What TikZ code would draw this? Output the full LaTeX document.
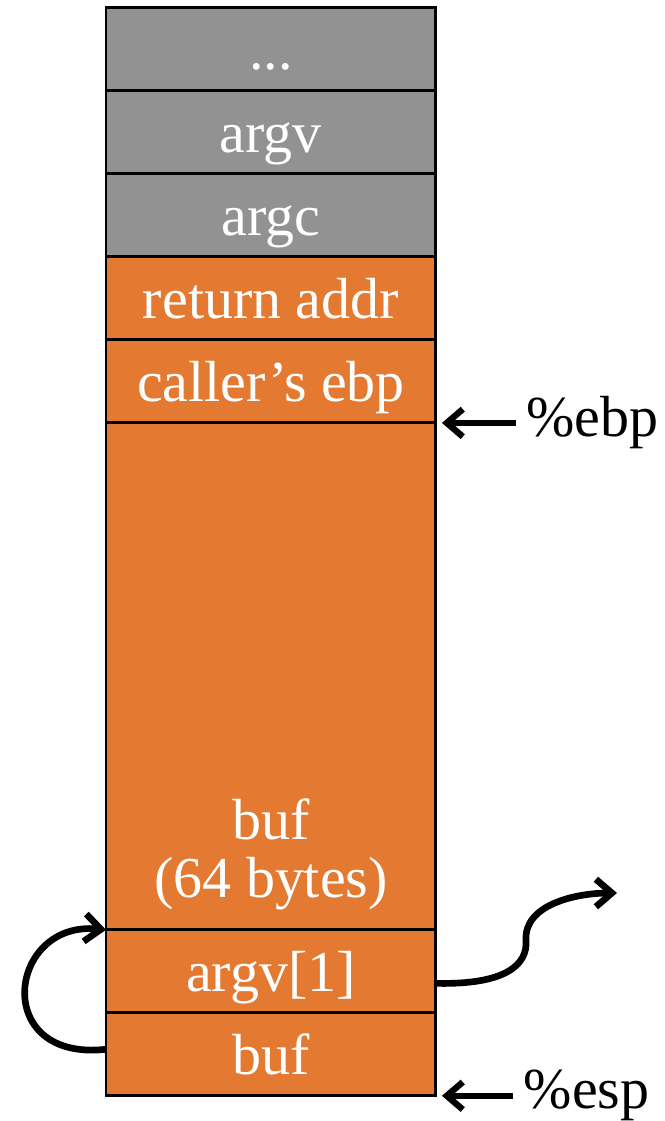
\documentclass[tikz,border=0pt]{standalone}
\usepackage{fontspec}
\setmainfont{Liberation Serif}
\usepackage{xcolor}
\usepackage{tikz}
\usetikzlibrary{positioning,arrows.meta}

\definecolor{stackgray}{RGB}{145,146,145}
\definecolor{frameorange}{RGB}{228,121,50}

\tikzset{
    cell/.style={draw=black, line width=1.7pt, minimum width=6.6cm, minimum height=1.66cm,
        outer sep=0pt, inner sep=0pt, text height=23pt, text depth=0pt,
        text=white, font=\fontsize{33}{34}\selectfont},
    gcell/.style={cell, fill=stackgray},
    ocell/.style={cell, fill=frameorange},
    inlbl/.style={anchor=base, inner sep=0pt, text=white, font=\fontsize{33}{34}\selectfont},
    reglbl/.style={anchor=west, inner sep=0pt, font=\fontsize{33}{34}\selectfont},
    ptr/.style={line width=3.6pt, -{Straight Barb[length=0.32cm,width=0.55cm]}},
    curvy/.style={line width=3.8pt, -{Straight Barb[length=0.32cm,width=0.55cm]}}
}

\begin{document}
\begin{tikzpicture}[x=0.02cm, y=-0.02cm]
    \useasboundingbox (0,0) rectangle (665,1121);

    % Stack
    \node[gcell, anchor=north west] (dots) at (106,8) {...};
    \node[gcell, below=0pt of dots] (argv) {argv};
    \node[gcell, below=0pt of argv] (argc) {argc};
    \node[ocell, below=0pt of argc] (ret) {return addr};
    \node[ocell, below=0pt of ret] (oldebp) {caller’s ebp};
    \node[ocell, minimum height=10.14cm, below=0pt of oldebp] (buf) {};
    \node[ocell, below=0pt of buf] (arg1) {argv[1]};
    \node[ocell, below=0pt of arg1] (bufptr) {buf};
    \node[inlbl] (sizelbl) at ([yshift=0.64cm]buf.south) {(64 bytes)};
    \node[inlbl] (buflbl) at ([yshift=1.8cm]buf.south) {buf};

    % Registers
    \node[reglbl] (ebp) at ([xshift=1.8cm]oldebp.south east) {\%ebp};
    \draw[ptr] (ebp.west) ++(-0.2cm,0) -- ([xshift=0.12cm]oldebp.south east);
    \node[reglbl] (esp) at ([xshift=1.75cm]bufptr.south east) {\%esp};
    \draw[ptr] (esp.west) ++(-0.2cm,0) -- ([xshift=0.12cm]bufptr.south east);

    % Pointers
    \draw[curvy] ([yshift=0.1cm]bufptr.west) .. controls (-10,1062) and (8,920) .. (arg1.north west);
    \coordinate (out) at (617,893);
    \draw[curvy] ([yshift=-0.24cm]arg1.east) .. controls (505,985) and (528,965) .. (526,940)
        .. controls (524,905) and (575,893) .. (out);
\end{tikzpicture}
\end{document}
